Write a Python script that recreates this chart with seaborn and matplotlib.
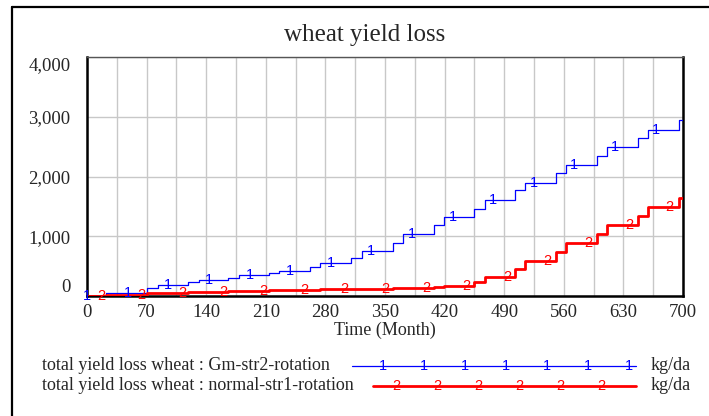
import numpy as np
import pandas as pd
import matplotlib
matplotlib.use("Agg")
import matplotlib.pyplot as plt
from matplotlib.lines import Line2D
import seaborn as sns

# step times (months) and cumulative yield loss after each step (kg/da)
step_months = [0, 22, 70, 83, 119, 131, 166, 178, 214, 226, 262, 274, 310, 323,
               359, 371, 407, 419, 454, 467, 503, 515, 551, 563, 599, 611, 647,
               659, 695, 700]
gm_str2 = [0, 55, 128, 183, 228, 267, 306, 350, 389, 420, 489, 550, 644, 756,
           894, 1030, 1183, 1322, 1461, 1611, 1767, 1894, 2056, 2194, 2350,
           2500, 2644, 2783, 2944, 2944]
normal_str1 = [0, 20, 50, 55, 65, 75, 85, 92, 100, 103, 108, 112, 118, 125,
               135, 140, 150, 167, 239, 322, 450, 589, 739, 889, 1044, 1189,
               1344, 1489, 1644, 1644]

x_ticks = [0, 70, 140, 210, 280, 350, 420, 490, 560, 630, 700]
y_ticks = [0, 1000, 2000, 3000, 4000]
y_tick_labels = ["0", "1,000", "2,000", "3,000", "4,000"]

series_names = ["total yield loss wheat : Gm-str2-rotation",
                "total yield loss wheat : normal-str1-rotation"]
unit = "kg/da"

W, H = 709, 416
SERIF = ["Liberation Serif", "DejaVu Serif"]
MARK_FONT = ["Liberation Sans", "DejaVu Sans"]

sns.set_style("white")
plt.rcParams["font.family"] = SERIF

df = pd.DataFrame({"Month": step_months, "gm": gm_str2, "normal": normal_str1})

fig = plt.figure(figsize=(W / 100, H / 100), dpi=100)
ax = fig.add_axes([87 / W, 1 - 296 / H, (683 - 87) / W, (296 - 57) / H])

sns.lineplot(data=df, x="Month", y="gm", ax=ax, color="#0000ff", linewidth=0.9,
             drawstyle="steps-post", zorder=3)
sns.lineplot(data=df, x="Month", y="normal", ax=ax, color="#ff0000", linewidth=2.0,
             drawstyle="steps-post", zorder=4)


def value_at(t, values):
    i = np.searchsorted(step_months, t, side="right") - 1
    return values[i]


# Vensim-style series numbers along each line
for k in range(15):
    t1 = 47.7 * k
    ax.text(t1, value_at(t1, gm_str2), "1", color="#0000ff", fontsize=10.5,
            family=MARK_FONT, ha="center", va="center", zorder=5, clip_on=False)
    t2 = 16.5 + 47.7 * k
    ax.text(t2, value_at(t2, normal_str1), "2", color="#ff0000", fontsize=10.5,
            family=MARK_FONT, ha="center", va="center", zorder=5, clip_on=False)

ax.set_xlim(0, 700)
ax.set_ylim(0, 4000)
ax.set_xticks(x_ticks)
ax.set_xticks(np.arange(0, 701, 35), minor=True)
ax.set_yticks(y_ticks)
ax.set_yticklabels(y_tick_labels)
ax.grid(which="both", axis="x", color="#c8c8c8", linewidth=1)
ax.grid(which="major", axis="y", color="#c8c8c8", linewidth=1)
ax.tick_params(which="both", length=0, labelsize=13.5)
ax.tick_params(axis="y", pad=12)
ax.tick_params(axis="x", pad=6)
ylabels = ax.get_yticklabels()
ylabels[0].set_va("bottom")
ylabels[-1].set_va("top")
ax.set_xlabel("Time (Month)", fontsize=13, labelpad=0)
ax.set_ylabel("")

for side in ["left", "bottom", "right"]:
    ax.spines[side].set_color("black")
    ax.spines[side].set_linewidth(1.8)
ax.spines["top"].set_color("#555555")
ax.spines["top"].set_linewidth(1.0)

fig.text(365 / W, 1 - 35 / H, "wheat yield loss", fontsize=18, ha="center", va="center")


def fx(px):
    return px / W


def fy(py):
    return 1 - py / H


# outer frame (left and top edges)
fig.add_artist(Line2D([fx(12), fx(12)], [fy(7), 0], color="black", linewidth=1.6))
fig.add_artist(Line2D([fx(12), 1], [fy(7), fy(7)], color="black", linewidth=1.6))

# legend rows
rows = [
    (366, "#0000ff", 0.9, 352, "1", 383, 7),
    (386, "#ff0000", 2.0, 373, "2", 396, 6),
]
for (row_y, color, lw, x0, mark, m0, n), name in zip(rows, series_names):
    fig.text(fx(42), fy(row_y), name, fontsize=13, ha="left", va="center")
    fig.add_artist(Line2D([fx(x0), fx(636)], [fy(row_y), fy(row_y)], color=color, linewidth=lw))
    for k in range(n):
        fig.text(fx(m0 + 41 * k), fy(row_y), mark, color=color, fontsize=10.5,
                 family=MARK_FONT, ha="center", va="center")
    fig.text(fx(651), fy(row_y), unit, fontsize=13, ha="left", va="center")

fig.savefig("out.png", dpi=100)
